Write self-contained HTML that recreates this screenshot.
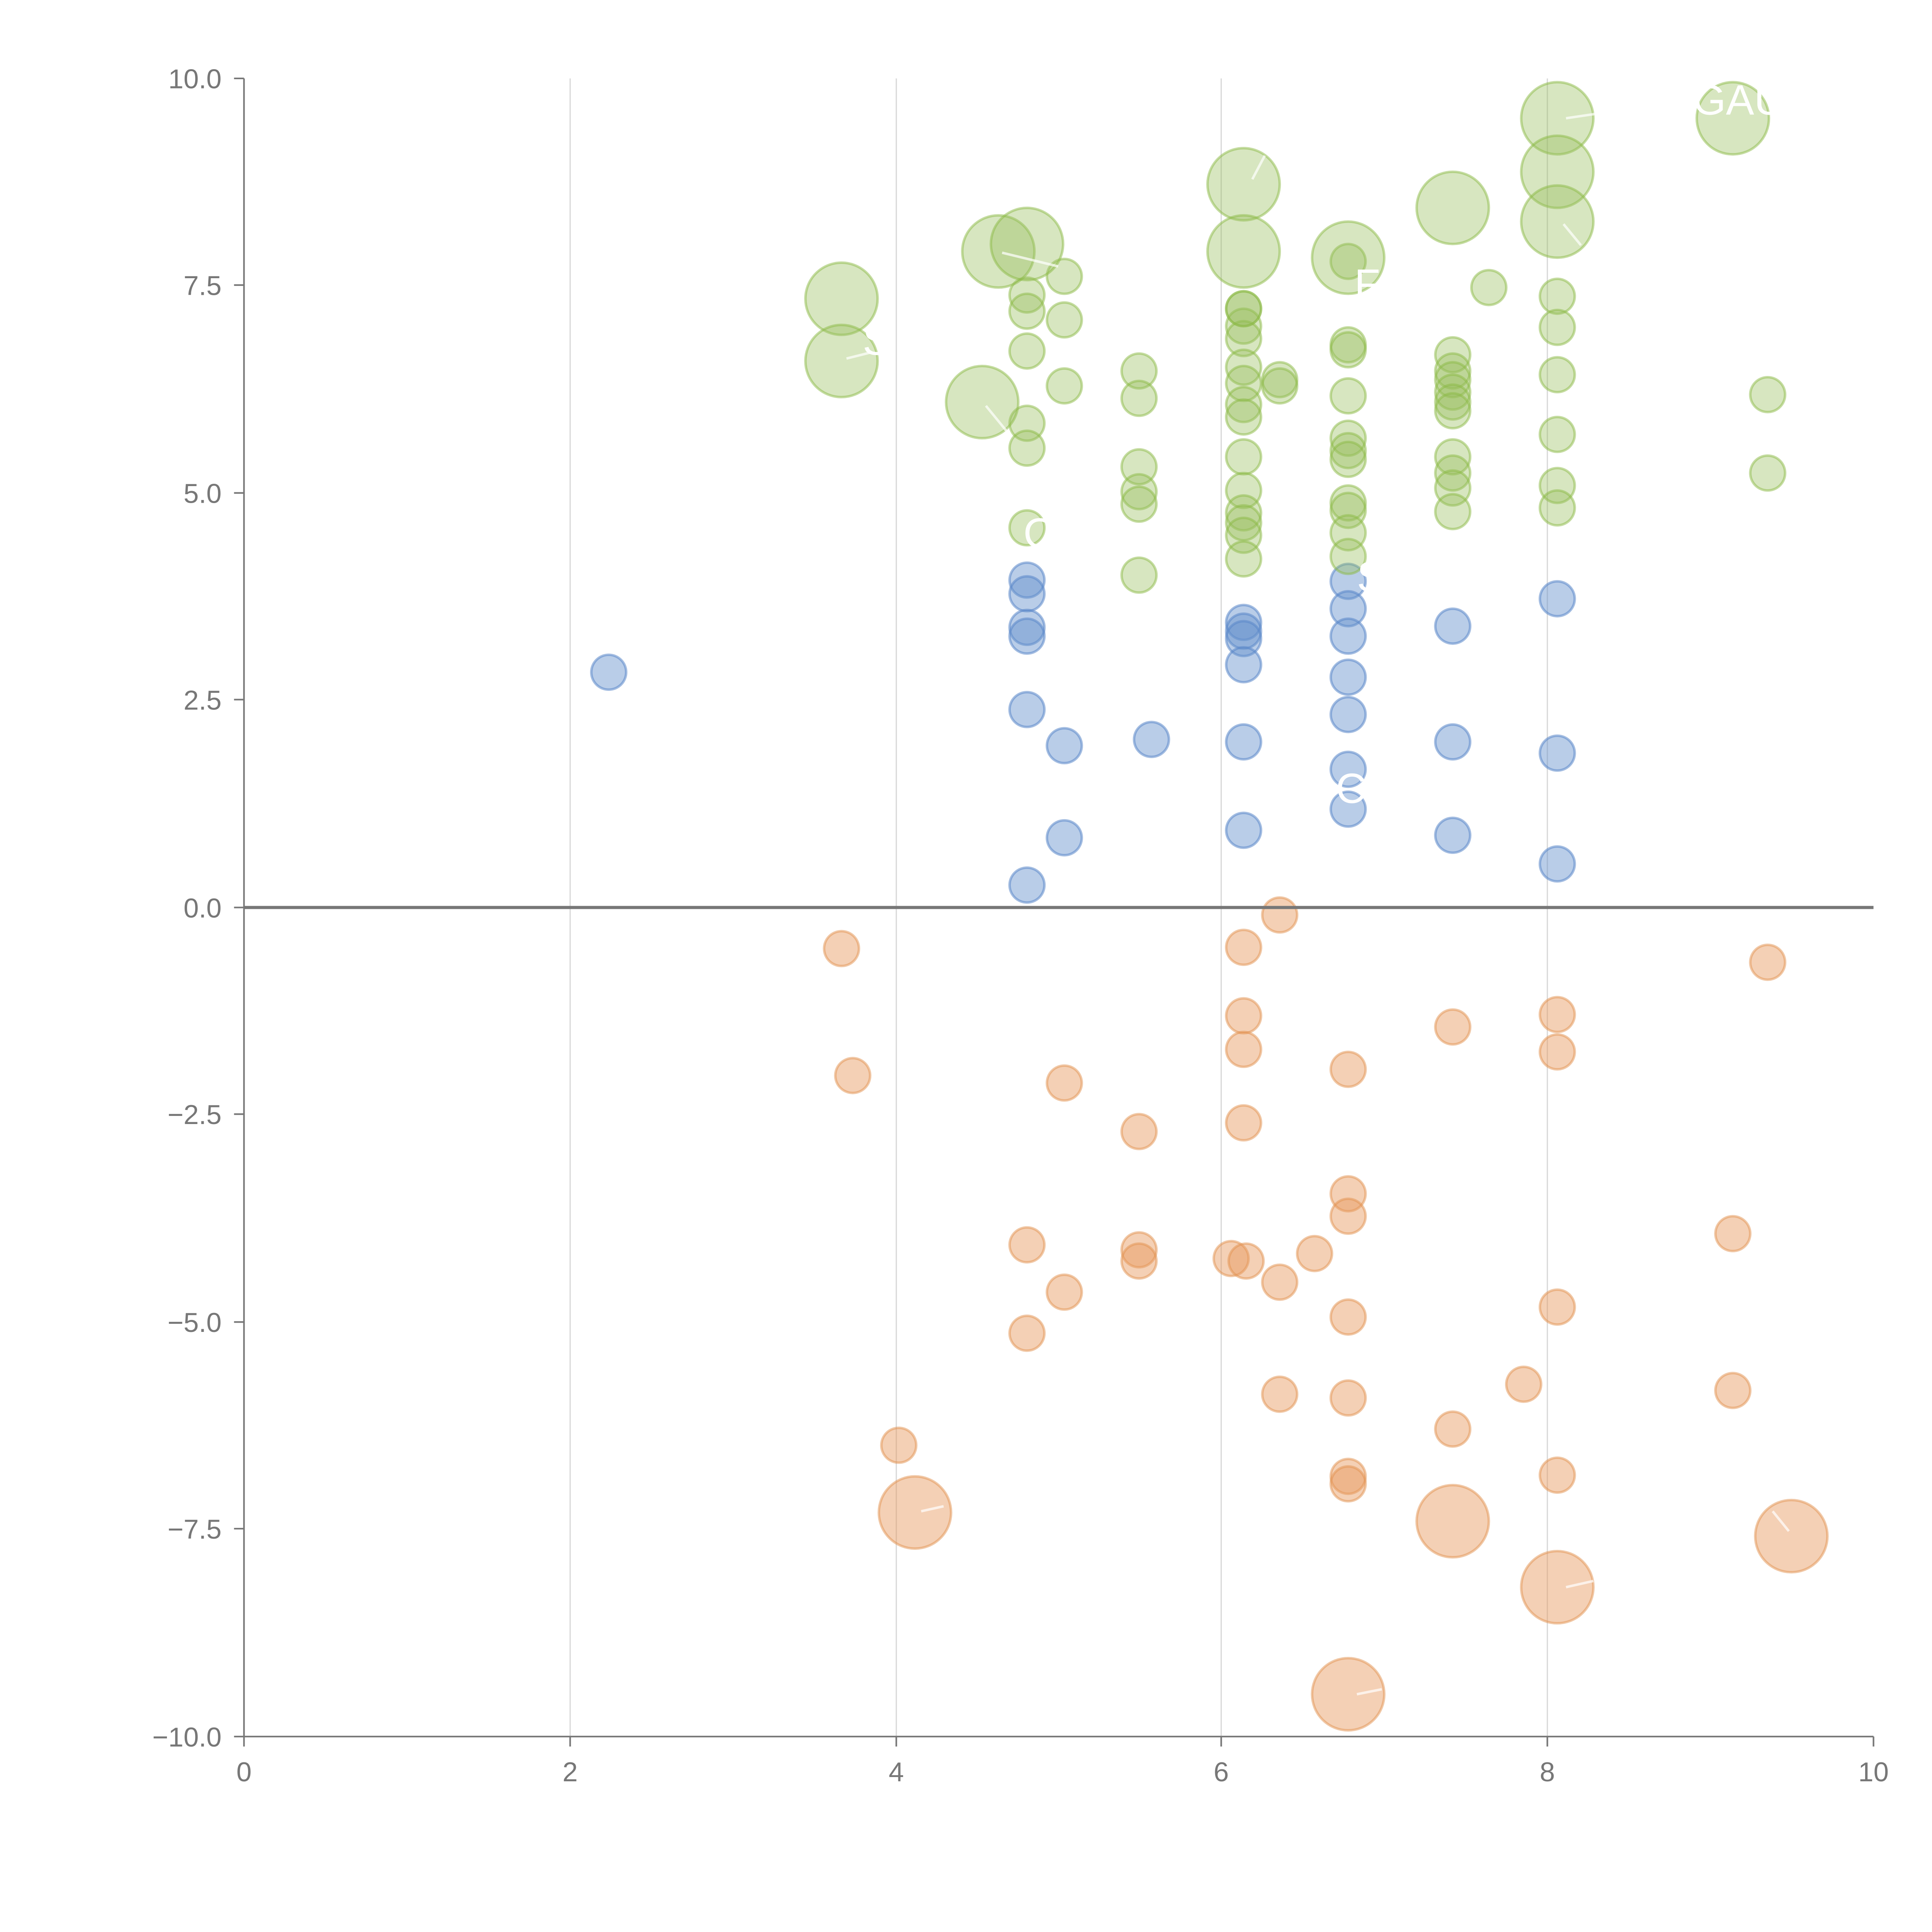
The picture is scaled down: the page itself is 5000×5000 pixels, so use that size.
<!DOCTYPE html>
<html><head><meta charset="utf-8"><style>html,body{margin:0;padding:0;background:#fff}svg{display:block}</style></head>
<body>
<svg xmlns="http://www.w3.org/2000/svg" width="5000" height="5000" viewBox="0 0 1552 1552">
<g stroke="#d9d9d9" stroke-width="1">
<line x1="458" y1="63" x2="458" y2="1395"/><line x1="720" y1="63" x2="720" y2="1395"/>
<line x1="981" y1="63" x2="981" y2="1395"/><line x1="1243" y1="63" x2="1243" y2="1395"/>
</g>
<g stroke="#777" stroke-width="1.3">
<line x1="196" y1="63" x2="196" y2="1395"/><line x1="196" y1="1395" x2="1505" y2="1395"/>
<line x1="188" y1="63" x2="196" y2="63"/><line x1="188" y1="229" x2="196" y2="229"/><line x1="188" y1="396" x2="196" y2="396"/><line x1="188" y1="562" x2="196" y2="562"/><line x1="188" y1="729" x2="196" y2="729"/><line x1="188" y1="895" x2="196" y2="895"/><line x1="188" y1="1062" x2="196" y2="1062"/><line x1="188" y1="1228" x2="196" y2="1228"/><line x1="188" y1="1395" x2="196" y2="1395"/>
<line x1="196" y1="1395" x2="196" y2="1403"/><line x1="458" y1="1395" x2="458" y2="1403"/><line x1="720" y1="1395" x2="720" y2="1403"/><line x1="981" y1="1395" x2="981" y2="1403"/><line x1="1243" y1="1395" x2="1243" y2="1403"/><line x1="1505" y1="1395" x2="1505" y2="1403"/>
</g>
<g font-family="Liberation Sans, sans-serif" font-size="22" fill="#777" text-anchor="end">
<text x="178" y="71">10.0</text><text x="178" y="237">7.5</text><text x="178" y="404">5.0</text><text x="178" y="570">2.5</text><text x="178" y="737">0.0</text><text x="178" y="903">−2.5</text><text x="178" y="1070">−5.0</text><text x="178" y="1236">−7.5</text><text x="178" y="1403">−10.0</text>
</g>
<g font-family="Liberation Sans, sans-serif" font-size="22" fill="#777" text-anchor="middle">
<text x="196" y="1431">0</text><text x="458" y="1431">2</text><text x="720" y="1431">4</text><text x="981" y="1431">6</text><text x="1243" y="1431">8</text><text x="1505" y="1431">10</text>
</g>
<g fill="rgba(100,145,205,0.45)" stroke="rgba(90,135,200,0.55)" stroke-width="2">
<circle cx="489" cy="540" r="14"/><circle cx="825" cy="466" r="14"/><circle cx="825" cy="477" r="14"/><circle cx="825" cy="504" r="14"/><circle cx="825" cy="511" r="14"/><circle cx="825" cy="570" r="14"/><circle cx="825" cy="711" r="14"/><circle cx="855" cy="599" r="14"/><circle cx="855" cy="673" r="14"/><circle cx="925" cy="594" r="14"/><circle cx="999" cy="500" r="14"/><circle cx="999" cy="507" r="14"/><circle cx="999" cy="513" r="14"/><circle cx="999" cy="534" r="14"/><circle cx="999" cy="596" r="14"/><circle cx="999" cy="667" r="14"/><circle cx="1083" cy="467" r="14"/><circle cx="1083" cy="489" r="14"/><circle cx="1083" cy="511" r="14"/><circle cx="1083" cy="544" r="14"/><circle cx="1083" cy="574" r="14"/><circle cx="1083" cy="618" r="14"/><circle cx="1083" cy="650" r="14"/><circle cx="1167" cy="503" r="14"/><circle cx="1167" cy="596" r="14"/><circle cx="1167" cy="671" r="14"/><circle cx="1251" cy="481" r="14"/><circle cx="1251" cy="605" r="14"/><circle cx="1251" cy="694" r="14"/>
</g>
<g fill="rgba(230,150,90,0.45)" stroke="rgba(225,145,80,0.5)" stroke-width="2">
<circle cx="676" cy="762" r="14"/><circle cx="685" cy="864" r="14"/><circle cx="855" cy="870" r="14"/><circle cx="915" cy="909" r="14"/><circle cx="1028" cy="735" r="14"/><circle cx="999" cy="761" r="14"/><circle cx="999" cy="816" r="14"/><circle cx="999" cy="843" r="14"/><circle cx="999" cy="902" r="14"/><circle cx="1083" cy="859" r="14"/><circle cx="1083" cy="959" r="14"/><circle cx="1083" cy="977" r="14"/><circle cx="1083" cy="1058" r="14"/><circle cx="1083" cy="1123" r="14"/><circle cx="1083" cy="1186" r="14"/><circle cx="1083" cy="1192" r="14"/><circle cx="1167" cy="825" r="14"/><circle cx="1167" cy="1148" r="14"/><circle cx="1251" cy="815" r="14"/><circle cx="1251" cy="845" r="14"/><circle cx="1251" cy="1050" r="14"/><circle cx="1251" cy="1185" r="14"/><circle cx="1420" cy="773" r="14"/><circle cx="1392" cy="991" r="14"/><circle cx="1392" cy="1117" r="14"/><circle cx="825" cy="1000" r="14"/><circle cx="825" cy="1071" r="14"/><circle cx="855" cy="1038" r="14"/><circle cx="915" cy="1004" r="14"/><circle cx="915" cy="1013" r="14"/><circle cx="989" cy="1011" r="14"/><circle cx="1001" cy="1013" r="14"/><circle cx="1028" cy="1030" r="14"/><circle cx="1056" cy="1007" r="14"/><circle cx="1028" cy="1120" r="14"/><circle cx="1224" cy="1112" r="14"/><circle cx="722" cy="1161" r="14"/>
<circle cx="735" cy="1215" r="29"/><circle cx="1167" cy="1222" r="29"/><circle cx="1251" cy="1275" r="29"/><circle cx="1439" cy="1234" r="29"/><circle cx="1083" cy="1361" r="29"/>
</g>
<g fill="rgba(150,190,90,0.38)" stroke="rgba(140,185,70,0.5)" stroke-width="2">
<circle cx="825" cy="237" r="14"/><circle cx="825" cy="250" r="14"/><circle cx="825" cy="282" r="14"/><circle cx="825" cy="340" r="14"/><circle cx="825" cy="360" r="14"/><circle cx="825" cy="424" r="14"/><circle cx="855" cy="222" r="14"/><circle cx="855" cy="257" r="14"/><circle cx="855" cy="310" r="14"/><circle cx="915" cy="298" r="14"/><circle cx="915" cy="320" r="14"/><circle cx="915" cy="375" r="14"/><circle cx="915" cy="395" r="14"/><circle cx="915" cy="405" r="14"/><circle cx="915" cy="462" r="14"/><circle cx="999" cy="248" r="14"/><circle cx="999" cy="262" r="14"/><circle cx="999" cy="272" r="14"/><circle cx="999" cy="295" r="14"/><circle cx="999" cy="308" r="14"/><circle cx="999" cy="325" r="14"/><circle cx="999" cy="335" r="14"/><circle cx="999" cy="367" r="14"/><circle cx="999" cy="394" r="14"/><circle cx="999" cy="412" r="14"/><circle cx="999" cy="420" r="14"/><circle cx="999" cy="430" r="14"/><circle cx="999" cy="449" r="14"/><circle cx="1028" cy="305" r="14"/><circle cx="1028" cy="310" r="14"/><circle cx="1083" cy="277" r="14"/><circle cx="1083" cy="281" r="14"/><circle cx="1083" cy="318" r="14"/><circle cx="1083" cy="352" r="14"/><circle cx="1083" cy="362" r="14"/><circle cx="1083" cy="369" r="14"/><circle cx="1083" cy="404" r="14"/><circle cx="1083" cy="410" r="14"/><circle cx="1083" cy="428" r="14"/><circle cx="1083" cy="447" r="14"/><circle cx="1167" cy="285" r="14"/><circle cx="1167" cy="298" r="14"/><circle cx="1167" cy="305" r="14"/><circle cx="1167" cy="315" r="14"/><circle cx="1167" cy="323" r="14"/><circle cx="1167" cy="330" r="14"/><circle cx="1167" cy="367" r="14"/><circle cx="1167" cy="380" r="14"/><circle cx="1167" cy="392" r="14"/><circle cx="1167" cy="411" r="14"/><circle cx="1196" cy="231" r="14"/><circle cx="1251" cy="238" r="14"/><circle cx="1251" cy="263" r="14"/><circle cx="1251" cy="301" r="14"/><circle cx="1251" cy="349" r="14"/><circle cx="1251" cy="390" r="14"/><circle cx="1251" cy="408" r="14"/><circle cx="1420" cy="317" r="14"/><circle cx="1420" cy="380" r="14"/><circle cx="999" cy="248" r="14"/><circle cx="1083" cy="210" r="14"/>
<circle cx="676" cy="240" r="29"/><circle cx="676" cy="290" r="29"/><circle cx="789" cy="323" r="29"/><circle cx="802" cy="202" r="29"/><circle cx="825" cy="196" r="29"/><circle cx="999" cy="148" r="29"/><circle cx="999" cy="202" r="29"/><circle cx="1083" cy="207" r="29"/><circle cx="1167" cy="167" r="29"/><circle cx="1251" cy="95" r="29"/><circle cx="1251" cy="138" r="29"/><circle cx="1251" cy="178" r="29"/><circle cx="1392" cy="95" r="29"/>
</g>
<line x1="196" y1="729" x2="1505" y2="729" stroke="#777" stroke-width="2.5"/>
<g stroke="rgba(255,255,255,0.7)" stroke-width="2">
<line x1="1258" y1="95" x2="1285" y2="91"/><line x1="1006" y1="144" x2="1016" y2="125"/><line x1="1256" y1="180" x2="1270" y2="197"/><line x1="805" y1="203" x2="850" y2="214"/><line x1="792" y1="326" x2="810" y2="348"/><line x1="680" y1="288" x2="700" y2="283"/><line x1="1090" y1="1361" x2="1110" y2="1357"/><line x1="1258" y1="1275" x2="1280" y2="1270"/><line x1="1437" y1="1230" x2="1424" y2="1214"/><line x1="740" y1="1214" x2="758" y2="1210"/>
</g>
<g font-family="Liberation Sans, sans-serif" font-size="34" fill="#fff">
<text x="1360" y="92">GAU</text><text x="1073" y="645">C</text><text x="822" y="440">C</text><text x="1090" y="475">S</text><text x="1088" y="240">F</text><text x="693" y="285">S</text>
</g>
</svg>
</body></html>
